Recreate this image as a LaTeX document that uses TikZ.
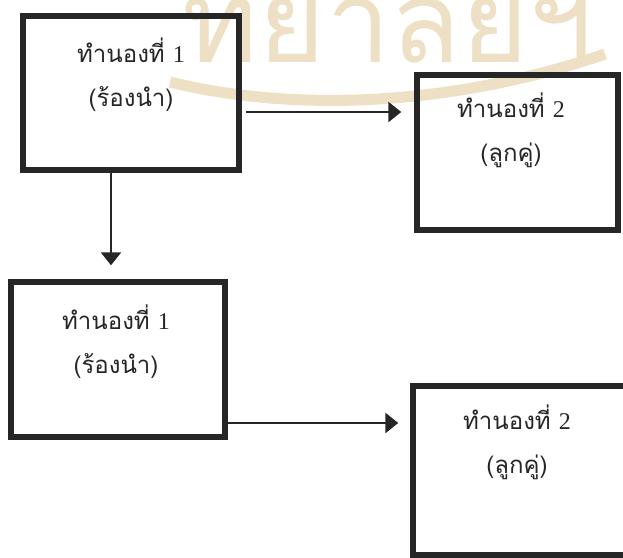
\documentclass[tikz,border=0pt]{standalone}
\usepackage{fontspec}
\newfontfamily\thaifont[Script=Thai]{Loma}
\newfontfamily\numfont{Liberation Serif}
\usetikzlibrary{positioning, arrows.meta}

\definecolor{sealtan}{HTML}{EEE0C4}
\definecolor{ink}{HTML}{262626}

\tikzset{
  partbox/.style={draw=ink, line width=5.5pt, inner sep=0pt},
  lbl/.style={align=center, text=ink, inner sep=0pt,
    font=\thaifont\fontsize{24}{44}\selectfont},
  flow/.style={draw=ink, line width=2.8pt, -{Triangle[length=13pt,width=20pt]}},
  sealtext/.style={text=sealtan, inner sep=0pt, font=\thaifont\fontsize{115}{115}\selectfont},
  sealband/.style={draw=sealtan, line width=11pt}
}

\begin{document}
\begin{tikzpicture}[x=1pt, y=-1pt]
  \clip (0,0) rectangle (623,557);
  \useasboundingbox (0,0) rectangle (623,557);

  % watermark
  \node[sealtext, anchor=base] (seal) at (388,62) {ทยาลัยฯ};
  \draw[sealband] (170,82) .. controls (300,114) and (460,104) .. (605,54);

  % boxes
  \node[partbox, minimum width=216pt, minimum height=154pt] (lead1) at (131,93) {};
  \node[partbox, minimum width=201pt, minimum height=155pt] (chorus1) at (517.5,152.5) {};
  \node[partbox, minimum width=214pt, minimum height=155pt] (lead2) at (118,359.5) {};
  \node[partbox, minimum width=217pt, minimum height=169pt] (chorus2) at (521.5,470.5) {};

  % labels
  \node[lbl] (lead1-t) at ([yshift=18.5pt]lead1.center) {ทำนองที่ {\numfont 1}\\(ร้องนำ)};
  \node[lbl] (chorus1-t) at ([xshift=-6.5pt,yshift=22.5pt]chorus1.center) {ทำนองที่ {\numfont 2}\\(ลูกคู่)};
  \node[lbl] (lead2-t) at ([xshift=-2pt,yshift=18pt]lead2.center) {ทำนองที่ {\numfont 1}\\(ร้องนำ)};
  \node[lbl] (chorus2-t) at ([xshift=-4.5pt,yshift=28.5pt]chorus2.center) {ทำนองที่ {\numfont 2}\\(ลูกคู่)};

  % arrows
  \coordinate (a1) at ([xshift=4pt,yshift=-19pt]lead1.east);
  \coordinate (a2) at ([xshift=-20pt]lead1.south);
  \coordinate (a3) at ([yshift=-63.5pt]lead2.east);
  \draw[flow, shorten >=13pt] (a1) -- (a1 -| chorus1.west);
  \draw[flow, shorten >=14pt] (a2) -- (a2 |- lead2.north);
  \draw[flow, shorten >=12pt] (a3) -- (a3 -| chorus2.west);
\end{tikzpicture}
\end{document}
